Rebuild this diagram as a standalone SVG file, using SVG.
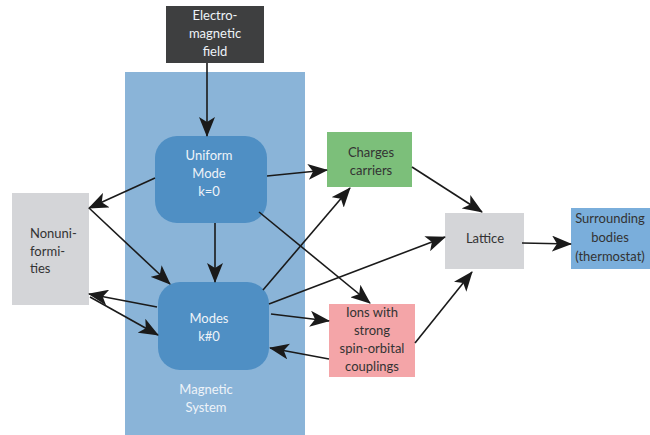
<svg xmlns="http://www.w3.org/2000/svg" width="650" height="435" viewBox="0 0 650 435">
<style>
text{font-family:Lato,"Open Sans","Liberation Sans",sans-serif;font-size:13px;text-anchor:middle}
.lt{fill:#eef3f8}
.dk{fill:#333333}
.edge{stroke:#1a1a1a;stroke-width:1.6;fill:none;marker-end:url(#ah)}
</style>
<defs>
<marker id="ah" markerUnits="userSpaceOnUse" markerWidth="20" markerHeight="16" refX="19" refY="8" orient="auto" viewBox="0 0 20 16">
<path d="M0,0 L20,8 L0,16 L5,8 z" fill="#1a1a1a"/>
</marker>
</defs>
<rect width="650" height="435" fill="#ffffff"/>
<g id="magnetic-system">
<rect x="125" y="72" width="180" height="363" fill="#8ab4d8"/>
<text class="lt" x="206" y="394">Magnetic</text>
<text class="lt" x="206" y="412">System</text>
</g>
<g id="em-field">
<rect x="166" y="6" width="98" height="57" fill="#3e3f40"/>
<text class="lt" x="215" y="20">Electro-</text>
<text class="lt" x="215" y="38">magnetic</text>
<text class="lt" x="215" y="56">field</text>
</g>
<g id="uniform-mode">
<rect x="155" y="136" width="112" height="87" rx="22" fill="#4f8fc4"/>
<text class="lt" x="209" y="160">Uniform</text>
<text class="lt" x="209" y="178">Mode</text>
<text class="lt" x="209" y="196">k=0</text>
</g>
<g id="modes">
<rect x="158" y="282" width="111" height="88" rx="22" fill="#4f8fc4"/>
<text class="lt" x="209" y="323">Modes</text>
<text class="lt" x="209" y="341">k#0</text>
</g>
<g id="nonuniformities">
<rect x="12" y="193" width="77" height="112" fill="#d4d5d8"/>
<text class="dk" x="30" y="238" style="text-anchor:start">Nonuni-</text>
<text class="dk" x="30" y="256" style="text-anchor:start">formi-</text>
<text class="dk" x="30" y="273" style="text-anchor:start">ties</text>
</g>
<g id="charges">
<rect x="327" y="132" width="85" height="55" fill="#7cbf7a"/>
<text class="dk" x="371" y="157">Charges</text>
<text class="dk" x="371" y="175">carriers</text>
</g>
<g id="lattice">
<rect x="445" y="213" width="79" height="56" fill="#d4d5d8"/>
<text class="dk" x="485" y="243">Lattice</text>
</g>
<g id="surrounding">
<rect x="571" y="208" width="79" height="61" fill="#7aaedb"/>
<text class="dk" x="610" y="223">Surrounding</text>
<text class="dk" x="610" y="242">bodies</text>
<text class="dk" x="610" y="261">(thermostat)</text>
</g>
<g id="ions">
<rect x="329" y="304" width="86" height="73" fill="#f4a5a8"/>
<text class="dk" x="372" y="317">Ions with</text>
<text class="dk" x="372" y="335">strong</text>
<text class="dk" x="372" y="353">spin-orbital</text>
<text class="dk" x="372" y="371">couplings</text>
</g>
<g id="connectors">
<line class="edge" x1="207" y1="63" x2="207" y2="136"/>
<line class="edge" x1="155" y1="178" x2="89" y2="208"/>
<line class="edge" x1="267" y1="176" x2="327" y2="170"/>
<line class="edge" x1="215" y1="223" x2="215" y2="282"/>
<line class="edge" x1="89" y1="208" x2="170" y2="284"/>
<line class="edge" x1="259" y1="212" x2="370" y2="303"/>
<line class="edge" x1="263" y1="290" x2="350" y2="188"/>
<line class="edge" x1="269" y1="304" x2="445" y2="237"/>
<line class="edge" x1="271" y1="314" x2="329" y2="321"/>
<line class="edge" x1="329" y1="359" x2="270" y2="348"/>
<line class="edge" x1="157" y1="307" x2="89" y2="294"/>
<line class="edge" x1="90" y1="297" x2="158" y2="335"/>
<line class="edge" x1="412" y1="167" x2="482" y2="212"/>
<line class="edge" x1="415" y1="343" x2="472" y2="272"/>
<line class="edge" x1="522" y1="243" x2="571" y2="244"/>
</g>
</svg>
